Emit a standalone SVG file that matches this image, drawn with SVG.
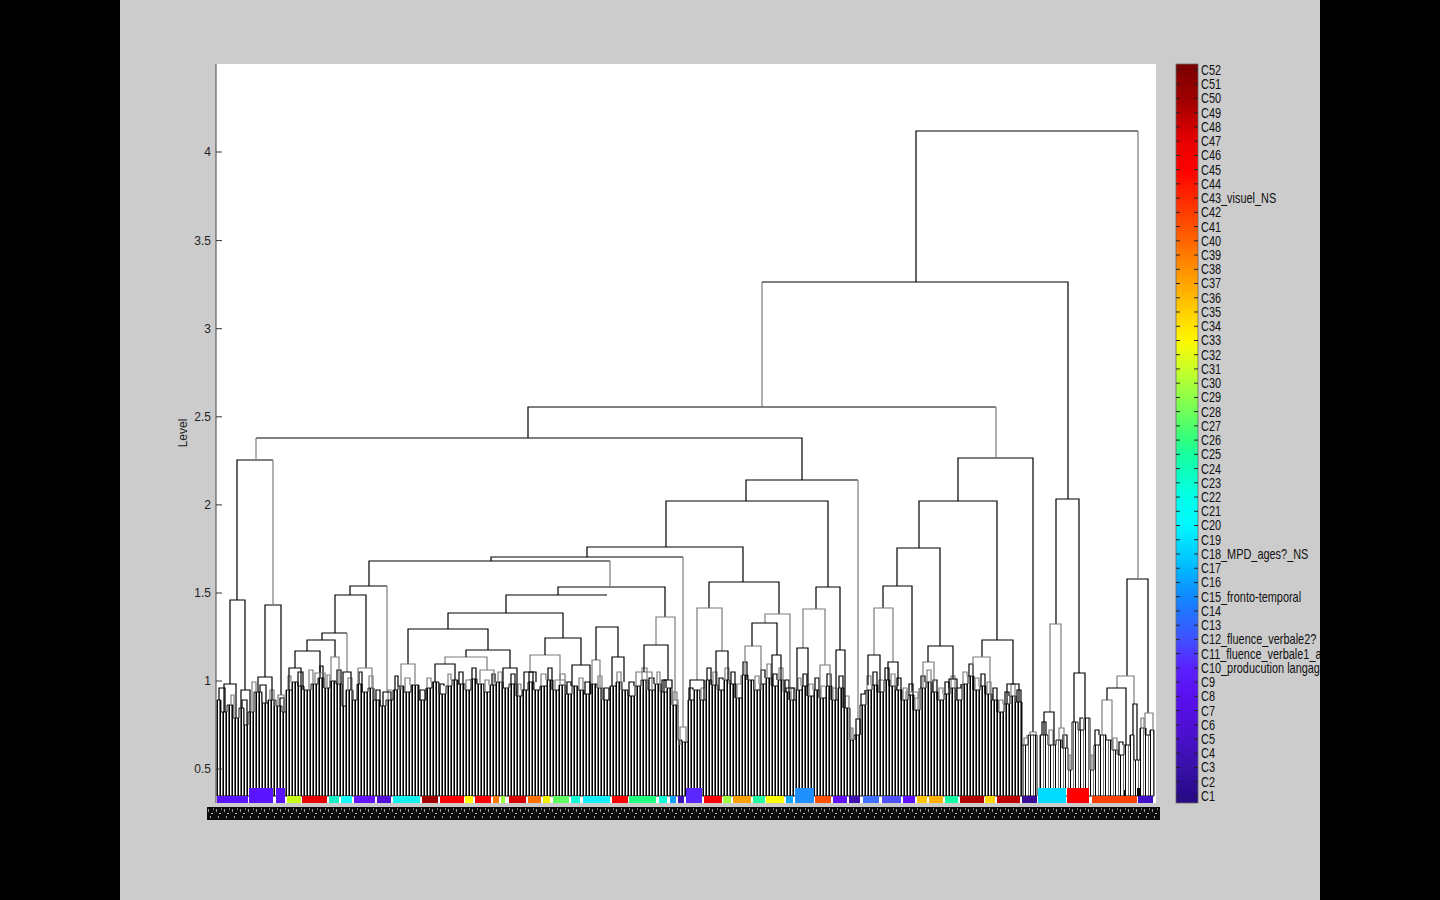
<svg xmlns="http://www.w3.org/2000/svg" width="1440" height="900" viewBox="0 0 1440 900">
<defs>
<style>
.k{fill:none;stroke:#000;stroke-width:1.2}
.g{fill:none;stroke:#7c7c7c;stroke-width:1.2}
.ax{font-family:"Liberation Sans",Arial,sans-serif;font-size:12px;fill:#222}
.cb{font-family:"Liberation Sans",Arial,sans-serif;font-size:14px;fill:#111}
.prof{stroke:#111;stroke-width:1}
</style>
<pattern id="leafs" patternUnits="userSpaceOnUse" x="1" y="0" width="3" height="8"><rect width="3" height="8" fill="#fff"/><rect width="1" height="8" fill="#000"/><rect x="2" width="1" height="8" fill="#6e6e6e"/></pattern>
<pattern id="leafs2" patternUnits="userSpaceOnUse" x="0" y="0" width="5" height="8"><rect width="5" height="8" fill="#fff"/><rect width="1" height="8" fill="#000"/><rect x="3" width="1" height="8" fill="#777"/></pattern>
<pattern id="lbl" patternUnits="userSpaceOnUse" x="207" y="807" width="8" height="13"><rect width="8" height="13" fill="#0c0c0c"/><rect x="1" y="2" width="1" height="3" fill="#9a9a9a"/><rect x="4" y="6" width="2" height="1" fill="#c0c0c0"/><rect x="6" y="1" width="1" height="2" fill="#777"/><rect x="3" y="9" width="1" height="2" fill="#aaa"/></pattern>
<pattern id="cbt" patternUnits="userSpaceOnUse" x="1176" y="69.5" width="22" height="14.235"><rect width="4" height="1" fill="#222"/><rect x="18" width="4" height="1" fill="#222"/></pattern>
<linearGradient id="jet" x1="0" y1="0" x2="0" y2="1">
<stop offset="0" stop-color="#780000"/><stop offset="0.008" stop-color="#800000"/><stop offset="0.05" stop-color="#a00000"/><stop offset="0.104" stop-color="#e80000"/><stop offset="0.143" stop-color="#ff0000"/><stop offset="0.181" stop-color="#ff2800"/><stop offset="0.239" stop-color="#ff6400"/><stop offset="0.278" stop-color="#ff9000"/><stop offset="0.336" stop-color="#ffd000"/><stop offset="0.374" stop-color="#fff800"/><stop offset="0.413" stop-color="#c8ff28"/><stop offset="0.47" stop-color="#70ff58"/><stop offset="0.509" stop-color="#30ff80"/><stop offset="0.528" stop-color="#18ffa0"/><stop offset="0.586" stop-color="#00ffe8"/><stop offset="0.624" stop-color="#00f8ff"/><stop offset="0.682" stop-color="#00b8ff"/><stop offset="0.721" stop-color="#1088ff"/><stop offset="0.779" stop-color="#4050ff"/><stop offset="0.817" stop-color="#5a20ff"/><stop offset="0.856" stop-color="#5a10f0"/><stop offset="0.914" stop-color="#4810c8"/><stop offset="0.952" stop-color="#3810a8"/><stop offset="0.991" stop-color="#280a88"/><stop offset="1" stop-color="#260a80"/>
</linearGradient>
</defs>
<rect x="0" y="0" width="1440" height="900" fill="#000"/>
<rect x="120" y="0" width="1200" height="900" fill="#cccccc"/>
<rect x="216" y="64" width="940" height="739" fill="#fff"/>

<g id="leaves">
<path class="prof" fill="url(#leafs)" d="M217 796V700H221V712H227V705H233V718H239V708H244V725H248V712H254V692H262V703H268V700H276V706H282V712H286V690H292V682H298V686H304V690H311V684H318V678H324V688H330V681H336V684H342V706H346V690H353V700H357V684H362V692H368V688H374V700H380V706H386V700H393V690H398V686H404V692H411V685H419V700H426V688H432V682H439V694H446V686H452V680H458V684H465V690H471V679H477V684H484V692H490V685H496V682H503V688H509V684H516V696H522V690H528V682H534V690H540V686H547V680H553V690H559V685H566V694H572V686H578V690H584V694H591V684H597V688H603V700H610V686H616V682H622V690H628V696H635V686H641V680H648V690H655V684H661V692H667V688H672V705H678V740H682V742H688V700H694V690H700V700H706V680H712V685H718V690H724V680H730V684H736V698H742V675H748V680H754V690H760V684H766V678H772V686H778V680H784V692H790V700H796V690H802V686H808V696H814V690H820V698H826V686H832V700H838V688H844V708H850V740H854V735H860V705H866V690H872V685H878V692H884V680H890V686H896V690H902V700H908V695H914V710H920V688H926V682H932V692H938V700H944V694H950V688H956V700H962V684H968V676H974V690H980V686H986V694H992V700H998V712H1004V704H1010V696H1016V702H1022V796Z"/>
<path class="prof" fill="url(#leafs2)" d="M1022 796V745H1028V735H1037V796Z"/>
<path class="prof" fill="url(#leafs2)" d="M1040 796V735H1048V745H1056V740H1062V748H1068V770H1072V722H1078V730H1084V718H1090V770H1094V745H1100V735H1106V740H1112V750H1118V755H1124V745H1130V735H1134V760H1140V728H1146V735H1150V730H1154V796Z"/>
<path class="k" d="M219 700V688H225V712M242 708V700H247V725M260 692V685H266V703M280 706V698H284V712M298 686V672H303V690M320 678V666H323V688M337 684V670H341V684M359 684V672H362V692M376 700V690H380V706M395 690V676H398V686M420 700V690H425V700M440 694V684H444V686M459 684V672H463V684M472 679V668H476V684M492 685V674H495V682M511 684V674H515V684M529 682V672H533V690M548 680V668H552V690M567 694V682H571V686M585 694V682H590V694M604 700V688H609V700M629 696V682H634V686M649 690V678H654V684M662 692V680H666V688M689 700V688H693V690M707 680V668H711V685M719 690V678H723V680M731 684V672H735V698M743 675V662H747V680M761 684V670H765V678M773 686V674H777V680M785 692V680H789V700M803 686V674H807V696M815 690V678H819V698M827 686V674H831V700M839 688V676H843V708M861 705V694H865V690M873 685V672H877V692M885 680V668H889V686M897 690V678H901V700M909 695V684H913V710M921 688V676H925V682M933 692V680H937V700M945 694V682H949V688M957 700V688H961V684M969 676V664H973V690M981 686V674H985V694M993 700V688H997V712M1005 704V692H1009V696M1017 702V690H1021V702M1042 735V722H1046V735M1063 748V735H1067V748M1080 730V718H1083V718M1095 745V730H1099V735M1119 755V742H1123V745"/>
<path class="g" d="M231 705V695H234V718M252 712V682H256V692M270 700V690H274V706M288 690V676H291V682M309 690V670H313V684M327 688V675H330V681M348 690V678H352V700M369 688V676H373V700M388 700V690H392V690M405 692V678H410V685M427 688V678H431V682M448 686V674H451V680M466 690V680H470V679M485 692V680H489V685M498 682V672H502V688M518 696V684H521V690M541 686V674H546V680M560 685V674H565V694M579 690V678H583V690M598 688V676H602V700M617 682V672H621V690M642 680V668H647V690M657 684V672H660V692M673 705V692H677V705M701 700V688H705V680M713 685V672H717V690M725 680V668H729V684M737 698V684H741V675M755 690V676H759V684M767 678V664H771V686M779 680V668H783V692M791 700V688H795V690M798 690V678H801V686M809 696V684H813V690M821 698V686H825V686M833 700V688H837V688M845 708V696H849V740M851 740V728H853V740M867 690V676H871V685M879 692V680H883V680M891 686V674H895V690M903 700V688H907V695M915 710V698H919V688M927 682V670H931V692M939 700V688H943V694M951 688V676H955V700M963 684V672H967V676M975 690V678H979V686M987 694V682H991V700M999 712V700H1003V704M1011 696V684H1015V702M1024 745V738H1027V735M1049 745V730H1053V745M1069 770V755H1071V770M1091 770V755H1093V770M1113 750V738H1117V755M1141 728V718H1144V735"/>
</g>

<g id="connectors">
<path class="k" d="M916 282V131H1138M762 282H1068V499M528 438V407H996M256 438H802V480M237 600V460H273M230 684V600H245V690M224 712V684H236V718M241 708V690H250V712M265 677V605H281V695M258 692V677H272V700M746 501V480H858M666 547V501H828V587M587 557V547H743V582M491 561V557H683M369 586V561H610M350 595V586H387M335 633V595H366V668M322 640V633H347M307 651V640H335V657M295 668V651H320V673M558 595V587H665V617M506 613V595H607M448 629V613H563V638M408 664V629H488V650M709 608V582H779V614M816 609V587H840V650M1056 624V499H1079V673M1127 676V579H1148V713M958 501V458H1033V732M919 548V501H997V640M897 586V548H940V646M883 608V586H912V692M982 657V640H1013V684"/>
<path class="g" d="M1138 131V579M762 282V407M996 407V458M256 438V460M273 460V605M858 480V719M683 557V727M610 561V587M387 586V692M347 633V672"/>
<path class="g" d="M697 680V608H722V651M765 623V614H790V688M745 675V646H761V690M803 648V609H825V665M820 698V665H830V686M680 745V727H686V742M656 645V617H675V700M636 686V672H652V690M672 705V700H678V705M592 684V660H600V688M530 672V655H560V680M555 690V680H565V685M445 664V657H487V670M480 684V670H494V685M401 690V664H415V685M358 684V668H372V688M331 681V657H339V684M315 684V673H325V688M278 706V695H284V712M874 655V608H893V662M906 700V692H918V710M923 688V662H934V682M973 676V657H990V694M1030 735V732H1036V735M1050 712V624H1061V728M1059 740V728H1064V748M1117 688V676H1134V704M1102 735V700H1112V740M1145 728V713H1153V730"/>
<path class="k" d="M690 700V680H704V700M716 685V651H728V680M752 646V623H777V655M772 686V655H781V680M786 692V688H794V700M797 690V648H808V686M836 700V650H845V708M856 740V719H860V735M644 672V645H668V680M664 692V680H672V688M596 660V627H618V657M612 686V657H624V682M545 655V638H581V665M524 690V672H536V682M572 686V665H590V694M466 657V650H510V668M435 682V664H455V680M503 688V668H517V696M383 706V692H391V700M343 706V672H351V690M289 690V668H301V686M868 685V655H880V692M888 680V662H898V686M928 662V646H953V679M949 694V679H957V688M1007 704V684H1019V702M1044 735V712H1054V745M1074 722V673H1085V718M1107 700V688H1126V745M1133 735V704H1137V760"/>
</g>

<g id="cluster-strip">
<rect x="217" y="796" width="31" height="7" fill="#5a14ff"/>
<rect x="249" y="788" width="24" height="15" fill="#5a14ff"/>
<rect x="276" y="788" width="9" height="15" fill="#5a14ff"/>
<rect x="287" y="796" width="14" height="7" fill="#c8ff14"/>
<rect x="302" y="796" width="25" height="7" fill="#e80000"/>
<rect x="329" y="796" width="10" height="7" fill="#14f0c8"/>
<rect x="341" y="796" width="11" height="7" fill="#14ffff"/>
<rect x="354" y="796" width="21" height="7" fill="#6414ff"/>
<rect x="377" y="796" width="14" height="7" fill="#5010d8"/>
<rect x="393" y="796" width="27" height="7" fill="#10f4f0"/>
<rect x="422" y="796" width="16" height="7" fill="#a00000"/>
<rect x="440" y="796" width="24" height="7" fill="#ff0000"/>
<rect x="465" y="796" width="8" height="7" fill="#ffff00"/>
<rect x="475" y="796" width="16" height="7" fill="#ff0000"/>
<rect x="493" y="796" width="6" height="7" fill="#ff7800"/>
<rect x="501" y="796" width="4" height="7" fill="#a0ff40"/>
<rect x="509" y="796" width="17" height="7" fill="#d80000"/>
<rect x="528" y="796" width="13" height="7" fill="#ff7000"/>
<rect x="543" y="796" width="7" height="7" fill="#f0f000"/>
<rect x="553" y="796" width="16" height="7" fill="#60ff60"/>
<rect x="571" y="796" width="9" height="7" fill="#10ffd8"/>
<rect x="583" y="796" width="27" height="7" fill="#10f0ff"/>
<rect x="612" y="796" width="16" height="7" fill="#ff0000"/>
<rect x="629" y="796" width="27" height="7" fill="#20ff80"/>
<rect x="659" y="796" width="8" height="7" fill="#10ffd8"/>
<rect x="670" y="796" width="6" height="7" fill="#10a0ff"/>
<rect x="678" y="796" width="6" height="7" fill="#4010b8"/>
<rect x="686" y="788" width="16" height="15" fill="#5a28ff"/>
<rect x="704" y="796" width="18" height="7" fill="#ff0000"/>
<rect x="723" y="796" width="8" height="7" fill="#a0ff40"/>
<rect x="733" y="796" width="18" height="7" fill="#ffa000"/>
<rect x="753" y="796" width="12" height="7" fill="#20ffa0"/>
<rect x="766" y="796" width="18" height="7" fill="#ffff00"/>
<rect x="786" y="796" width="7" height="7" fill="#10a8ff"/>
<rect x="795" y="788" width="19" height="15" fill="#2090ff"/>
<rect x="815" y="796" width="16" height="7" fill="#ff5000"/>
<rect x="833" y="796" width="14" height="7" fill="#6010ff"/>
<rect x="849" y="796" width="11" height="7" fill="#4010b0"/>
<rect x="863" y="796" width="16" height="7" fill="#4070ff"/>
<rect x="882" y="796" width="19" height="7" fill="#5050ff"/>
<rect x="903" y="796" width="12" height="7" fill="#6010ff"/>
<rect x="917" y="796" width="10" height="7" fill="#ffc800"/>
<rect x="929" y="796" width="14" height="7" fill="#ffb000"/>
<rect x="945" y="796" width="13" height="7" fill="#10ffa0"/>
<rect x="960" y="796" width="24" height="7" fill="#b00000"/>
<rect x="985" y="796" width="10" height="7" fill="#ffd800"/>
<rect x="997" y="796" width="23" height="7" fill="#c00000"/>
<rect x="1022" y="796" width="15" height="7" fill="#3a0c98"/>
<rect x="1038" y="788" width="28" height="15" fill="#00dcff"/>
<rect x="1067" y="788" width="22" height="15" fill="#ff0000"/>
<rect x="1092" y="796" width="45" height="7" fill="#ff4000"/>
<rect x="1138" y="796" width="15" height="7" fill="#4010c8"/>
<rect x="1124" y="790" width="2" height="6" fill="#000"/>
<rect x="1137" y="788" width="3" height="8" fill="#000"/>
</g>

<rect id="leaf-labels" x="207" y="807" width="953" height="13" fill="url(#lbl)"/>

<g id="y-axis">
<path d="M216 64V803" stroke="#444" stroke-width="1"/>
<path d="M216 152h6M216 240.6h6M216 328.7h6M216 416.8h6M216 504.9h6M216 593h6M216 681h6M216 769h6" stroke="#333" stroke-width="1"/>
<g class="ax" text-anchor="end">
<text x="211" y="156">4</text>
<text x="211" y="245">3.5</text>
<text x="211" y="333">3</text>
<text x="211" y="421">2.5</text>
<text x="211" y="509">2</text>
<text x="211" y="597">1.5</text>
<text x="211" y="685">1</text>
<text x="211" y="773">0.5</text>
</g>
<text class="ax" font-size="11" text-anchor="middle" transform="translate(187 433) rotate(-90)">Level</text>
</g>

<g id="colorbar">
<rect x="1176" y="64" width="22" height="739" fill="url(#jet)" stroke="#666" stroke-width="0.8"/>
<rect x="1176" y="64" width="22" height="739" fill="url(#cbt)"/>
<g class="cb" transform="translate(1201 0) scale(0.78 1)">
<text x="0" y="75">C52</text>
<text x="0" y="89.3">C51</text>
<text x="0" y="103.5">C50</text>
<text x="0" y="117.7">C49</text>
<text x="0" y="132">C48</text>
<text x="0" y="146.2">C47</text>
<text x="0" y="160.4">C46</text>
<text x="0" y="174.7">C45</text>
<text x="0" y="188.9">C44</text>
<text x="0" y="203.1">C43_visuel_NS</text>
<text x="0" y="217.4">C42</text>
<text x="0" y="231.6">C41</text>
<text x="0" y="245.8">C40</text>
<text x="0" y="260.1">C39</text>
<text x="0" y="274.3">C38</text>
<text x="0" y="288.5">C37</text>
<text x="0" y="302.8">C36</text>
<text x="0" y="317">C35</text>
<text x="0" y="331.2">C34</text>
<text x="0" y="345.5">C33</text>
<text x="0" y="359.7">C32</text>
<text x="0" y="373.9">C31</text>
<text x="0" y="388.2">C30</text>
<text x="0" y="402.4">C29</text>
<text x="0" y="416.7">C28</text>
<text x="0" y="430.9">C27</text>
<text x="0" y="445.1">C26</text>
<text x="0" y="459.4">C25</text>
<text x="0" y="473.6">C24</text>
<text x="0" y="487.8">C23</text>
<text x="0" y="502.1">C22</text>
<text x="0" y="516.3">C21</text>
<text x="0" y="530.5">C20</text>
<text x="0" y="544.8">C19</text>
<text x="0" y="559">C18_MPD_ages?_NS</text>
<text x="0" y="573.2">C17</text>
<text x="0" y="587.5">C16</text>
<text x="0" y="601.7">C15_fronto-temporal</text>
<text x="0" y="615.9">C14</text>
<text x="0" y="630.2">C13</text>
<text x="0" y="644.4">C12_fluence_verbale2?</text>
<text x="0" y="658.7">C11_fluence_verbale1_a</text>
<text x="0" y="672.9">C10_producution langag</text>
<text x="0" y="687.1">C9</text>
<text x="0" y="701.4">C8</text>
<text x="0" y="715.6">C7</text>
<text x="0" y="729.8">C6</text>
<text x="0" y="744.1">C5</text>
<text x="0" y="758.3">C4</text>
<text x="0" y="772.5">C3</text>
<text x="0" y="786.8">C2</text>
<text x="0" y="801">C1</text>
</g>
</g>

<rect x="0" y="0" width="120" height="900" fill="#000"/>
<rect x="1320" y="0" width="120" height="900" fill="#000"/>
</svg>
